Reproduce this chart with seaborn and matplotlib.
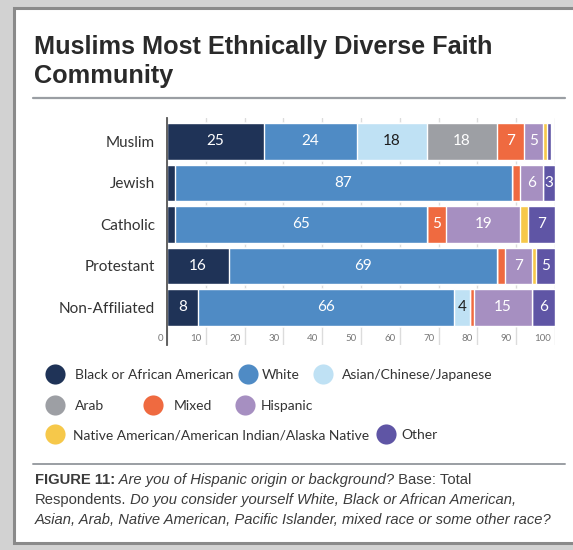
import matplotlib
matplotlib.use("Agg")
import numpy as np
import pandas as pd
import matplotlib.pyplot as plt
import seaborn as sns
from matplotlib.lines import Line2D
from matplotlib.patches import Rectangle
from matplotlib.transforms import ScaledTranslation

# ---- data -------------------------------------------------------------
faiths = ["Muslim", "Jewish", "Catholic", "Protestant", "Non-Affiliated"]
groups = [
    "Black or African American",
    "White",
    "Asian/Chinese/Japanese",
    "Arab",
    "Mixed",
    "Hispanic",
    "Native American/American Indian/Alaska Native",
    "Other",
]
black = [25, 2, 2, 16, 8]
white = [24, 87, 65, 69, 66]
asian = [18, 0, 0, 0, 4]
arab = [18, 0, 0, 0, 0]
mixed = [7, 2, 5, 2, 1]
hispanic = [5, 6, 19, 7, 15]
native = [1, 0, 2, 1, 0]
other = [1, 3, 7, 5, 6]
x_ticks = [0, 10, 20, 30, 40, 50, 60, 70, 80, 90, 100]

colors = ["#1f3357", "#4f8bc5", "#bfe1f4", "#9d9fa4",
          "#ef6a40", "#a68fc1", "#f6c84a", "#5f55a5"]
label_colors = ["white", "white", "#1e1e1e", "white",
                "white", "white", "white", "white"]

W, H = 573, 550
sns.set_theme(style="white")
plt.rcParams["font.family"] = ["Lato", "DejaVu Sans"]

fig = plt.figure(figsize=(W / 100, H / 100), dpi=100)


def fx(px):
    return px / W


def fy(py):
    return 1 - py / H


# ---- framed panel ------------------------------------------------------
fig.patches.append(Rectangle((0, 0), 1, 1, transform=fig.transFigure,
                             facecolor="#d2d2d2", edgecolor="none", zorder=-10))
fig.patches.append(Rectangle((fx(14), fy(543)), fx(W + 20 - 14), (543 - 8) / H,
                             transform=fig.transFigure, facecolor="white",
                             edgecolor="#8a8a8a", linewidth=2.2, zorder=-9))

# ---- title -------------------------------------------------------------
title_kw = dict(family=["Liberation Sans", "DejaVu Sans"], weight="bold",
                fontsize=18.2, color="#2a2a2a", va="baseline", ha="left")
fig.text(fx(34), fy(54), "Muslims Most Ethnically Diverse Faith", **title_kw)
fig.text(fx(34), fy(83), "Community", **title_kw)
fig.add_artist(Line2D([fx(33), fx(565)], [fy(98), fy(98)],
                      transform=fig.transFigure, color="#9a9ea3", lw=1.6))

# ---- stacked bars ------------------------------------------------------
ax = fig.add_axes([fx(167), fy(345), (555 - 167) / W, (345 - 118) / H])
segments = np.array([black, white, asian, arab, mixed, hispanic, native, other]).T
cum = segments.cumsum(axis=1)
df = pd.DataFrame(cum, columns=groups)
df["faith"] = faiths

# draw cumulative totals from the outermost segment inward
for j in range(len(groups) - 1, -1, -1):
    sns.barplot(data=df, x=groups[j], y="faith", order=faiths, color=colors[j],
                saturation=1, width=0.89, errorbar=None, orient="h", ax=ax,
                zorder=2)

for i in range(len(faiths)):
    for j in range(len(groups)):
        v = segments[i, j]
        if v >= 3:
            ax.text(cum[i, j] - v / 2, i, str(v), ha="center", va="center",
                    fontsize=11, color=label_colors[j], zorder=3)

ax.set_xlim(0, 100)
ax.set_ylim(4.904, -0.566)
ax.set_xlabel("")
ax.set_ylabel("")
ax.set_xticks(x_ticks)
ax.set_xticklabels([str(t) for t in x_ticks])
ax.grid(axis="x", color="#dcdcdc", lw=1.0)
ax.set_axisbelow(True)
for s in ["top", "right", "bottom"]:
    ax.spines[s].set_visible(False)
ax.spines["left"].set_color("#555555")
ax.spines["left"].set_linewidth(1.3)
ax.spines["left"].set_zorder(4)
ax.tick_params(axis="x", length=0, pad=-7.6, labelsize=7, labelcolor="#777777")
ax.tick_params(axis="y", length=0, pad=8.5, labelsize=11, labelcolor="#333333")
shift = ScaledTranslation(-3 / 72, 0, fig.dpi_scale_trans)
for lab in ax.get_xticklabels():
    lab.set_horizontalalignment("right")
    lab.set_transform(lab.get_transform() + shift)

# ---- legend ------------------------------------------------------------
legend_slots = [  # (circle centre x, text start x, row y) in pixels
    (55, 75, 375), (248, 262, 375), (323, 342, 375),
    (55, 75, 406), (153, 174, 406), (245, 261, 406),
    (55, 73, 435), (386, 401, 435),
]
leg_fs = 10
hl = 1.2  # handle length in font-size units
for (cx, tx, ry), name, col in zip(legend_slots, groups, colors):
    hbox = hl * leg_fs * 100 / 72
    pad = (tx - (cx - hbox / 2) - hbox) / (leg_fs * 100 / 72)
    h = Line2D([], [], marker="o", linestyle="none", markersize=14.5,
               markerfacecolor=col, markeredgecolor="none")
    fig.legend([h], [name], loc="center left",
               bbox_to_anchor=(fx(cx - hbox / 2), fy(ry)),
               frameon=False, fontsize=leg_fs, handlelength=hl,
               handletextpad=pad, borderpad=0, borderaxespad=0,
               labelcolor="#333333")

# ---- caption -----------------------------------------------------------
fig.add_artist(Line2D([fx(33), fx(565)], [fy(464), fy(464)],
                      transform=fig.transFigure, color="#9a9ea3", lw=1.4))
cap_family = ["Liberation Sans", "DejaVu Sans"]
cap_fs = 10.6
cap_color = "#3c3c3c"
renderer = fig.canvas.get_renderer()
caption_lines = [
    (484, [("FIGURE 11:", "normal", "bold"),
           (" Are you of Hispanic origin or background?", "italic", "normal"),
           (" Base: Total", "normal", "normal")]),
    (504, [("Respondents.", "normal", "normal"),
           (" Do you consider yourself White, Black or African American,", "italic", "normal")]),
    (524, [("Asian, Arab, Native American, Pacific Islander, mixed race or some other race?",
            "italic", "normal")]),
]
for y_px, runs in caption_lines:
    x_px = 35
    for txt, style, weight in runs:
        t = fig.text(fx(x_px), fy(y_px), txt, family=cap_family, fontsize=cap_fs,
                     style=style, weight=weight, color=cap_color,
                     ha="left", va="baseline")
        x_px += t.get_window_extent(renderer).width

fig.savefig("out.png", dpi=100)
